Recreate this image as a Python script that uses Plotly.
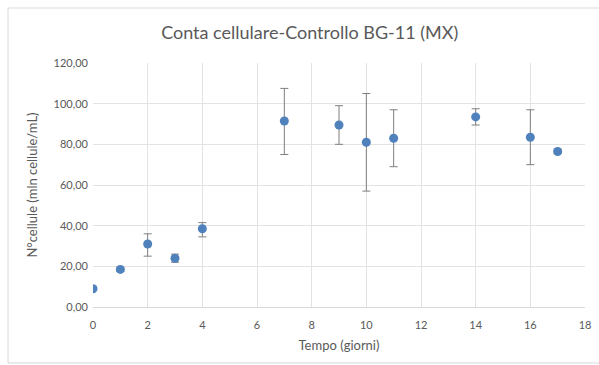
import plotly.graph_objects as go

days = [0, 1, 2, 3, 4, 7, 9, 10, 11, 14, 16, 17]
cells = [9.0, 18.5, 31.0, 24.0, 38.5, 91.5, 89.5, 81.0, 83.0, 93.5, 83.5, 76.5]
err_plus = [0.8, 1.0, 5.0, 2.0, 3.0, 16.0, 9.5, 24.0, 14.0, 4.0, 13.5, 1.0]
err_minus = [0.8, 1.0, 6.0, 2.0, 4.0, 16.5, 9.5, 24.0, 14.0, 4.0, 13.5, 1.0]

y_ticks = [0, 20, 40, 60, 80, 100, 120]
y_tick_text = ["0,00", "20,00", "40,00", "60,00", "80,00", "100,00", "120,00"]
x_ticks = [0, 2, 4, 6, 8, 10, 12, 14, 16, 18]

fig = go.Figure()
fig.add_trace(go.Scatter(
    x=days, y=cells, mode="markers",
    marker=dict(color="#4F81BD", size=9, line=dict(width=0)),
    error_y=dict(type="data", symmetric=False, array=err_plus, arrayminus=err_minus,
                 color="#7F7F7F", thickness=1, width=4),
    showlegend=False,
))

fig.update_layout(
    width=599, height=365,
    margin=dict(l=93, r=8, t=63, b=58),
    paper_bgcolor="white", plot_bgcolor="white",
    font=dict(family="Lato, Open Sans, sans-serif", color="#595959", size=11),
    title=dict(text="Conta cellulare-Controllo BG-11 (MX)", x=0.517, xanchor="center",
               y=0.91, yanchor="middle", font=dict(size=18, color="#595959")),
    xaxis=dict(range=[0, 18], tickvals=x_ticks, showgrid=True, gridcolor="#E3E3E3",
               zeroline=False, showline=True, linecolor="#D9D9D9", ticks="",
               ticklabelstandoff=8,
               title=dict(text="Tempo (giorni)", font=dict(size=13, color="#595959"), standoff=10),
               tickfont=dict(size=11, color="#595959")),
    yaxis=dict(range=[0, 120], tickvals=y_ticks, ticktext=y_tick_text, showgrid=True,
               gridcolor="#E3E3E3", zeroline=False, showline=False, ticks="",
               ticklabelstandoff=4,
               title=dict(text="N°cellule (mln cellule/mL)", font=dict(size=13, color="#595959"), standoff=13),
               tickfont=dict(size=11, color="#595959")),
    shapes=[dict(type="rect", xref="paper", yref="paper", x0=-0.1727, x1=1.05, y0=-0.2295, y1=1.2254,
                 line=dict(color="#D9D9D9", width=1), layer="below")],
)

fig.write_html("out.html")
